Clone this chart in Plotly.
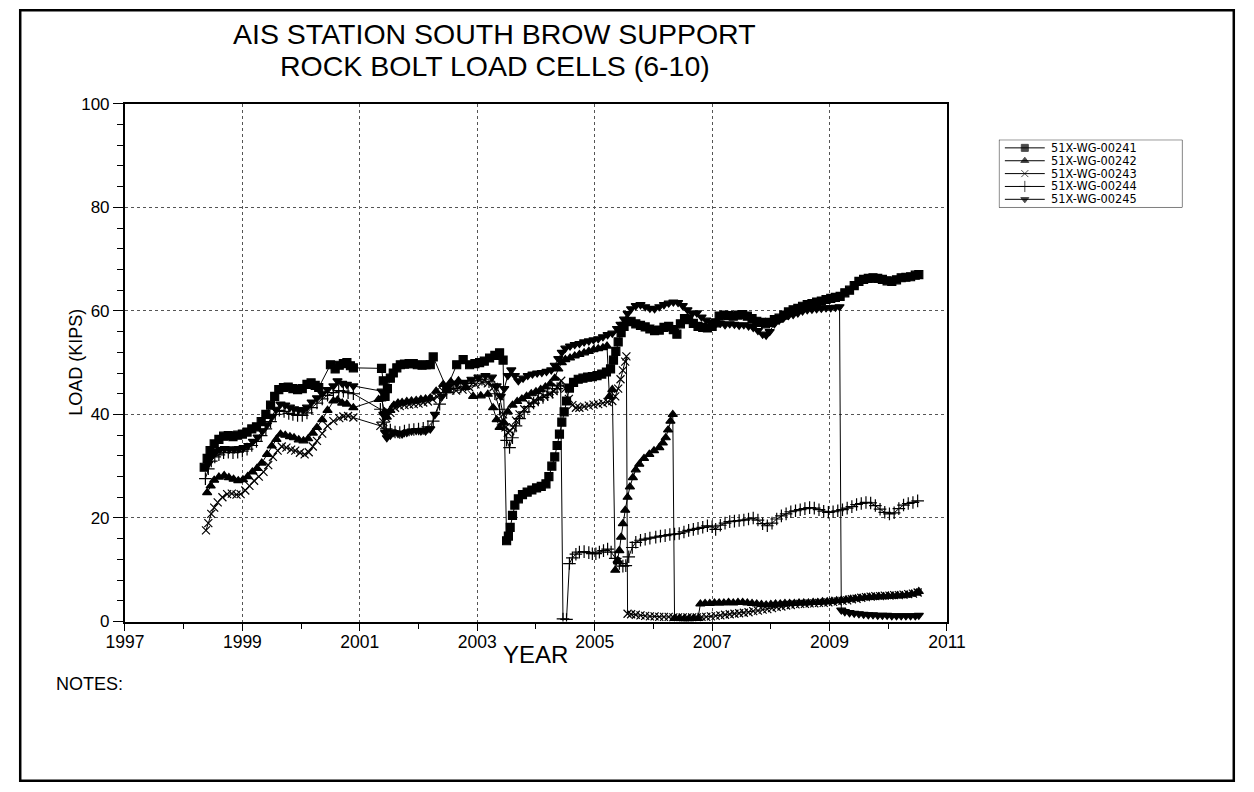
import plotly.graph_objects as go

# ---- load cell readings (decimal year, load in kips) ----
cell_241 = [
    (1998.35, 29.8), (1998.40, 31.5), (1998.45, 33.0), (1998.52, 34.3), (1998.60, 35.2),
    (1998.68, 35.8), (1998.76, 35.9), (1998.84, 35.7), (1998.92, 36.0), (1999.00, 36.2),
    (1999.08, 36.6), (1999.16, 37.2), (1999.24, 37.6), (1999.32, 38.6), (1999.40, 40.0),
    (1999.48, 41.8), (1999.55, 43.5), (1999.62, 44.8), (1999.70, 45.2), (1999.78, 45.3),
    (1999.86, 45.0), (1999.94, 44.8), (2000.02, 45.0), (2000.10, 45.8), (2000.17, 46.1),
    (2000.24, 45.6), (2000.30, 45.2), (2000.50, 49.6), (2000.58, 48.8), (2000.65, 49.5),
    (2000.72, 49.8), (2000.78, 50.0), (2000.84, 49.4), (2000.89, 49.0), (2001.37, 48.9),
    (2001.40, 46.5), (2001.43, 43.5), (2001.47, 45.0), (2001.52, 47.0), (2001.57, 48.0),
    (2001.63, 49.0), (2001.69, 49.6), (2001.76, 49.7), (2001.84, 49.8), (2001.91, 49.8),
    (2001.98, 49.6), (2002.06, 49.5), (2002.13, 49.6), (2002.20, 49.6), (2002.25, 51.1),
    (2002.48, 45.0), (2002.65, 49.6), (2002.76, 50.6), (2002.87, 49.6), (2002.96, 49.8),
    (2003.04, 50.0), (2003.12, 50.3), (2003.21, 50.9), (2003.30, 51.4), (2003.38, 51.9),
    (2003.44, 50.5), (2003.50, 15.6), (2003.53, 16.5), (2003.56, 18.2), (2003.60, 20.5),
    (2003.64, 22.5), (2003.70, 23.7), (2003.77, 24.5), (2003.85, 25.0), (2003.93, 25.4),
    (2004.01, 25.8), (2004.09, 26.1), (2004.17, 26.6), (2004.22, 28.0), (2004.27, 30.0),
    (2004.32, 31.8), (2004.36, 34.0), (2004.40, 36.2), (2004.44, 38.5), (2004.48, 40.5),
    (2004.52, 42.6), (2004.57, 45.1), (2004.64, 46.2), (2004.72, 46.8), (2004.80, 47.0),
    (2004.88, 47.2), (2004.96, 47.3), (2005.04, 47.5), (2005.12, 47.8), (2005.20, 48.2),
    (2005.27, 48.8), (2005.32, 50.5), (2005.36, 52.2), (2005.40, 54.0), (2005.45, 55.8),
    (2005.50, 57.0), (2005.55, 57.9), (2005.62, 58.0), (2005.70, 57.5), (2005.78, 57.2),
    (2005.86, 56.9), (2005.94, 56.5), (2006.02, 56.2), (2006.10, 56.3), (2006.18, 56.8),
    (2006.26, 57.0), (2006.34, 56.4), (2006.40, 55.5), (2006.46, 57.5), (2006.53, 58.5),
    (2006.60, 58.3), (2006.68, 57.6), (2006.76, 57.0), (2006.84, 56.8), (2006.92, 56.7),
    (2007.00, 57.0), (2007.06, 57.7), (2007.12, 59.0), (2007.20, 59.2), (2007.28, 59.1),
    (2007.36, 59.0), (2007.44, 59.2), (2007.52, 59.3), (2007.60, 59.0), (2007.68, 58.5),
    (2007.76, 58.0), (2007.84, 57.8), (2007.91, 57.5), (2007.98, 57.8), (2008.06, 58.3),
    (2008.14, 58.6), (2008.22, 59.2), (2008.30, 59.8), (2008.38, 60.2), (2008.46, 60.5),
    (2008.54, 60.9), (2008.62, 61.2), (2008.70, 61.4), (2008.78, 61.7), (2008.86, 61.9),
    (2008.94, 62.2), (2009.02, 62.4), (2009.10, 62.6), (2009.18, 62.8), (2009.26, 63.5),
    (2009.34, 64.0), (2009.42, 64.9), (2009.50, 65.7), (2009.58, 66.1), (2009.66, 66.3),
    (2009.74, 66.4), (2009.82, 66.3), (2009.90, 66.1), (2009.98, 65.8), (2010.06, 65.7),
    (2010.14, 66.0), (2010.22, 66.4), (2010.30, 66.5), (2010.38, 66.6), (2010.46, 66.9),
    (2010.52, 67.0),
]

cell_242 = [
    (1998.40, 24.9), (1998.46, 26.2), (1998.52, 27.3), (1998.60, 27.9), (1998.69, 28.2),
    (1998.77, 27.8), (1998.85, 27.5), (1998.93, 27.2), (1999.01, 27.4), (1999.09, 28.0),
    (1999.17, 28.9), (1999.25, 29.6), (1999.33, 30.6), (1999.42, 32.3), (1999.50, 33.9),
    (1999.58, 35.2), (1999.65, 36.2), (1999.73, 36.0), (1999.81, 35.7), (1999.88, 35.5),
    (1999.96, 35.1), (2000.04, 34.9), (2000.12, 35.3), (2000.20, 36.4), (2000.27, 37.5),
    (2000.36, 39.0), (2000.45, 40.8), (2000.55, 42.6), (2000.62, 42.8), (2000.70, 42.2),
    (2000.78, 42.0), (2000.89, 41.3), (2001.32, 42.9), (2001.37, 43.0), (2001.42, 40.5),
    (2001.46, 39.5), (2001.52, 40.8), (2001.58, 41.8), (2001.65, 42.2), (2001.72, 42.3),
    (2001.80, 42.5), (2001.88, 42.6), (2001.96, 42.7), (2002.04, 42.9), (2002.12, 43.0),
    (2002.20, 43.2), (2002.30, 44.5), (2002.42, 45.8), (2002.55, 46.3), (2002.68, 46.5),
    (2002.80, 45.2), (2002.93, 43.5), (2003.06, 43.6), (2003.18, 43.9), (2003.27, 41.3),
    (2003.33, 39.0), (2003.38, 37.5), (2003.45, 38.5), (2003.52, 40.5), (2003.60, 41.8),
    (2003.68, 42.5), (2003.76, 43.0), (2003.84, 43.5), (2003.92, 44.0), (2004.00, 44.4),
    (2004.08, 44.8), (2004.16, 45.3), (2004.24, 45.9), (2004.32, 47.0), (2004.38, 48.8),
    (2004.44, 50.0), (2004.50, 50.6), (2004.58, 50.9), (2004.66, 51.3), (2004.74, 51.6),
    (2004.82, 51.9), (2004.90, 52.2), (2004.98, 52.5), (2005.06, 52.7), (2005.14, 52.9),
    (2005.21, 53.2), (2005.25, 43.5), (2005.30, 44.8), (2005.35, 9.9), (2005.39, 11.8),
    (2005.42, 13.7), (2005.45, 16.3), (2005.48, 18.9), (2005.52, 21.5), (2005.56, 24.0),
    (2005.60, 26.0), (2005.65, 27.8), (2005.70, 29.3), (2005.76, 30.4), (2005.84, 31.5),
    (2005.93, 32.3), (2006.01, 33.0), (2006.10, 33.6), (2006.16, 34.5), (2006.21, 35.5),
    (2006.25, 37.0), (2006.29, 38.7), (2006.33, 40.0), (2006.36, 0.6), (2006.44, 0.6),
    (2006.52, 0.5), (2006.60, 0.5), (2006.68, 0.6), (2006.76, 0.6), (2006.80, 3.4),
    (2006.88, 3.5), (2006.96, 3.5), (2007.04, 3.6), (2007.12, 3.6), (2007.20, 3.6),
    (2007.28, 3.7), (2007.36, 3.6), (2007.44, 3.7), (2007.52, 3.7), (2007.60, 3.6),
    (2007.68, 3.5), (2007.76, 3.4), (2007.84, 3.3), (2007.92, 3.2), (2008.00, 3.3),
    (2008.08, 3.4), (2008.16, 3.4), (2008.24, 3.5), (2008.32, 3.5), (2008.40, 3.5),
    (2008.48, 3.6), (2008.56, 3.6), (2008.64, 3.6), (2008.72, 3.7), (2008.80, 3.7),
    (2008.88, 3.8), (2008.96, 3.8), (2009.04, 3.9), (2009.12, 4.0), (2009.20, 4.1),
    (2009.28, 4.2), (2009.36, 4.3), (2009.44, 4.4), (2009.52, 4.5), (2009.60, 4.6),
    (2009.68, 4.7), (2009.76, 4.7), (2009.84, 4.8), (2009.92, 4.8), (2010.00, 4.9),
    (2010.08, 4.9), (2010.16, 5.0), (2010.24, 5.0), (2010.32, 5.1), (2010.40, 5.3),
    (2010.48, 5.5), (2010.52, 5.8),
]

cell_243 = [
    (1998.38, 17.6), (1998.42, 19.0), (1998.47, 20.8), (1998.52, 22.0), (1998.58, 23.0),
    (1998.66, 24.0), (1998.74, 24.6), (1998.82, 24.7), (1998.90, 24.5), (1998.97, 24.6),
    (1999.05, 25.3), (1999.12, 26.2), (1999.20, 27.2), (1999.28, 28.0), (1999.36, 28.9),
    (1999.44, 30.2), (1999.52, 31.8), (1999.60, 33.0), (1999.67, 33.8), (1999.75, 33.6),
    (1999.83, 33.2), (1999.90, 33.0), (1999.98, 32.6), (2000.06, 32.3), (2000.13, 32.7),
    (2000.20, 33.8), (2000.27, 34.9), (2000.36, 36.3), (2000.45, 37.8), (2000.55, 38.7),
    (2000.65, 39.3), (2000.72, 39.6), (2000.80, 39.7), (2000.89, 39.4), (2001.35, 37.8),
    (2001.40, 38.5), (2001.45, 39.3), (2001.52, 40.3), (2001.60, 41.3), (2001.68, 41.6),
    (2001.76, 41.8), (2001.84, 41.9), (2001.92, 42.0), (2002.00, 42.1), (2002.08, 42.3),
    (2002.16, 42.5), (2002.24, 42.9), (2002.32, 43.4), (2002.42, 44.5), (2002.52, 45.0),
    (2002.64, 44.6), (2002.75, 44.8), (2002.86, 45.3), (2002.97, 45.8), (2003.08, 46.2),
    (2003.18, 46.0), (2003.28, 45.3), (2003.38, 43.5), (2003.44, 40.0), (2003.48, 37.5),
    (2003.52, 36.5), (2003.56, 36.8), (2003.61, 37.5), (2003.66, 38.8), (2003.72, 40.0),
    (2003.80, 41.0), (2003.89, 42.0), (2003.97, 42.6), (2004.06, 43.2), (2004.14, 43.5),
    (2004.23, 43.9), (2004.30, 44.5), (2004.36, 45.3), (2004.43, 46.5), (2004.50, 45.0),
    (2004.56, 43.0), (2004.62, 41.8), (2004.68, 41.3), (2004.74, 41.3), (2004.82, 41.5),
    (2004.90, 41.7), (2004.98, 41.9), (2005.06, 42.0), (2005.14, 42.2), (2005.22, 42.4),
    (2005.30, 42.6), (2005.35, 43.5), (2005.40, 45.0), (2005.44, 46.8), (2005.48, 48.5),
    (2005.52, 50.2), (2005.54, 51.2), (2005.56, 1.5), (2005.62, 1.4), (2005.70, 1.3),
    (2005.78, 1.2), (2005.86, 1.1), (2005.94, 1.0), (2006.02, 1.0), (2006.10, 0.9),
    (2006.18, 0.9), (2006.26, 0.9), (2006.34, 0.8), (2006.42, 0.8), (2006.50, 0.8),
    (2006.58, 0.8), (2006.66, 0.8), (2006.74, 0.8), (2006.82, 0.9), (2006.90, 0.9),
    (2006.98, 1.0), (2007.06, 1.1), (2007.14, 1.2), (2007.22, 1.3), (2007.30, 1.4),
    (2007.38, 1.5), (2007.46, 1.6), (2007.54, 1.7), (2007.62, 1.8), (2007.70, 2.0),
    (2007.78, 2.1), (2007.86, 2.3), (2007.94, 2.4), (2008.02, 2.6), (2008.10, 2.8),
    (2008.18, 2.9), (2008.26, 3.1), (2008.34, 3.2), (2008.42, 3.3), (2008.50, 3.4),
    (2008.58, 3.4), (2008.66, 3.5), (2008.74, 3.5), (2008.82, 3.6), (2008.90, 3.6),
    (2008.98, 3.7), (2009.06, 3.8), (2009.14, 3.9), (2009.22, 4.0), (2009.30, 4.1),
    (2009.38, 4.3), (2009.46, 4.4), (2009.54, 4.6), (2009.62, 4.7), (2009.70, 4.8),
    (2009.78, 4.9), (2009.86, 4.9), (2009.94, 5.0), (2010.02, 5.0), (2010.10, 5.1),
    (2010.18, 5.1), (2010.26, 5.2), (2010.34, 5.3), (2010.42, 5.4), (2010.50, 5.6),
]

cell_244 = [
    (1998.37, 27.6), (1998.42, 29.5), (1998.47, 31.0), (1998.53, 31.8), (1998.60, 32.2),
    (1998.68, 32.6), (1998.76, 32.7), (1998.84, 32.6), (1998.92, 32.7), (1999.00, 32.9),
    (1999.08, 33.3), (1999.16, 34.0), (1999.24, 34.8), (1999.32, 35.9), (1999.40, 37.2),
    (1999.48, 38.6), (1999.56, 40.0), (1999.63, 40.8), (1999.71, 40.6), (1999.79, 40.2),
    (1999.86, 40.0), (1999.94, 39.8), (2000.02, 39.8), (2000.10, 40.3), (2000.18, 41.3),
    (2000.27, 42.2), (2000.36, 43.0), (2000.45, 43.7), (2000.55, 44.2), (2000.64, 44.6),
    (2000.72, 44.5), (2000.80, 44.2), (2000.89, 44.0), (2001.35, 41.0), (2001.40, 38.5),
    (2001.45, 37.2), (2001.52, 37.0), (2001.60, 36.6), (2001.68, 36.5), (2001.76, 36.8),
    (2001.84, 37.0), (2001.92, 37.1), (2002.00, 37.2), (2002.08, 37.3), (2002.16, 37.6),
    (2002.25, 38.7), (2002.36, 42.0), (2002.48, 44.2), (2002.60, 45.0), (2002.72, 45.3),
    (2002.84, 46.0), (2002.96, 46.5), (2003.08, 46.8), (2003.20, 46.3), (2003.30, 44.0),
    (2003.38, 41.0), (2003.44, 38.0), (2003.50, 35.0), (2003.55, 33.6), (2003.60, 35.5),
    (2003.66, 37.8), (2003.72, 39.2), (2003.80, 40.5), (2003.88, 41.5), (2003.96, 42.2),
    (2004.04, 42.8), (2004.12, 43.3), (2004.20, 43.8), (2004.28, 44.3), (2004.36, 45.0),
    (2004.42, 45.5), (2004.46, 0.5), (2004.52, 0.4), (2004.57, 11.2), (2004.62, 12.3),
    (2004.68, 13.0), (2004.74, 13.4), (2004.82, 13.5), (2004.90, 13.3), (2004.96, 13.1),
    (2005.02, 13.1), (2005.08, 13.4), (2005.15, 13.7), (2005.22, 14.0), (2005.28, 13.4),
    (2005.35, 12.2), (2005.42, 11.2), (2005.48, 10.7), (2005.53, 10.8), (2005.58, 12.5),
    (2005.64, 14.3), (2005.70, 15.3), (2005.78, 15.7), (2005.86, 15.9), (2005.94, 16.1),
    (2006.04, 16.3), (2006.12, 16.5), (2006.20, 16.6), (2006.28, 16.8), (2006.36, 16.9),
    (2006.44, 17.0), (2006.52, 17.3), (2006.60, 17.6), (2006.68, 17.8), (2006.76, 18.0),
    (2006.84, 18.2), (2006.92, 18.5), (2007.00, 18.3), (2007.06, 17.8), (2007.14, 18.6),
    (2007.22, 19.0), (2007.30, 19.3), (2007.38, 19.4), (2007.46, 19.5), (2007.54, 19.6),
    (2007.62, 19.8), (2007.70, 20.0), (2007.78, 19.6), (2007.86, 18.9), (2007.94, 18.5),
    (2008.02, 19.0), (2008.10, 19.8), (2008.18, 20.4), (2008.26, 20.8), (2008.34, 21.2),
    (2008.42, 21.4), (2008.50, 21.6), (2008.58, 21.8), (2008.66, 22.0), (2008.74, 21.9),
    (2008.82, 21.6), (2008.90, 21.3), (2008.98, 21.1), (2009.06, 21.2), (2009.14, 21.4),
    (2009.22, 21.6), (2009.30, 21.9), (2009.38, 22.2), (2009.46, 22.6), (2009.54, 22.8),
    (2009.62, 23.0), (2009.70, 22.9), (2009.78, 22.4), (2009.86, 21.7), (2009.94, 21.1),
    (2010.02, 20.8), (2010.10, 21.0), (2010.18, 21.8), (2010.26, 22.5), (2010.34, 22.8),
    (2010.42, 23.0), (2010.50, 23.3),
]

cell_245 = [
    (1998.42, 30.5), (1998.48, 32.0), (1998.55, 32.8), (1998.62, 33.2), (1998.70, 33.4),
    (1998.78, 33.3), (1998.86, 33.3), (1998.94, 33.4), (1999.02, 33.6), (1999.10, 34.0),
    (1999.18, 34.8), (1999.26, 35.6), (1999.34, 36.8), (1999.42, 38.0), (1999.50, 39.5),
    (1999.57, 41.0), (1999.65, 42.0), (1999.73, 41.8), (1999.81, 41.4), (1999.88, 41.1),
    (1999.96, 40.9), (2000.04, 40.9), (2000.10, 41.4), (2000.18, 42.4), (2000.27, 43.2),
    (2000.36, 44.0), (2000.45, 44.8), (2000.55, 45.5), (2000.62, 46.5), (2000.70, 46.0),
    (2000.78, 45.8), (2000.89, 45.5), (2001.37, 44.5), (2001.40, 40.0), (2001.43, 36.5),
    (2001.46, 35.5), (2001.52, 36.0), (2001.58, 36.5), (2001.65, 36.3), (2001.72, 36.2),
    (2001.80, 36.5), (2001.88, 36.8), (2001.96, 36.9), (2002.04, 36.8), (2002.12, 36.8),
    (2002.20, 37.2), (2002.28, 40.0), (2002.40, 43.5), (2002.52, 45.5), (2002.65, 46.0),
    (2002.78, 46.2), (2002.90, 46.8), (2003.02, 47.2), (2003.14, 47.5), (2003.25, 47.2),
    (2003.33, 45.5), (2003.40, 43.5), (2003.46, 45.0), (2003.52, 47.5), (2003.58, 48.6),
    (2003.64, 47.5), (2003.70, 46.5), (2003.78, 47.0), (2003.86, 47.5), (2003.94, 47.8),
    (2004.02, 48.0), (2004.10, 48.1), (2004.18, 48.3), (2004.26, 48.6), (2004.32, 49.5),
    (2004.38, 50.8), (2004.44, 52.0), (2004.50, 52.8), (2004.58, 53.2), (2004.66, 53.5),
    (2004.74, 53.7), (2004.82, 54.0), (2004.90, 54.2), (2004.98, 54.4), (2005.06, 54.6),
    (2005.14, 55.0), (2005.22, 55.4), (2005.30, 55.7), (2005.38, 56.6), (2005.44, 57.4),
    (2005.50, 58.4), (2005.56, 59.5), (2005.62, 60.4), (2005.70, 61.0), (2005.78, 61.2),
    (2005.86, 60.8), (2005.94, 60.5), (2006.02, 60.4), (2006.10, 60.8), (2006.18, 61.2),
    (2006.26, 61.5), (2006.34, 61.7), (2006.42, 61.6), (2006.50, 61.0), (2006.58, 60.2),
    (2006.66, 59.5), (2006.74, 59.6), (2006.82, 58.8), (2006.90, 58.2), (2006.98, 57.8),
    (2007.06, 57.5), (2007.14, 57.6), (2007.22, 57.3), (2007.30, 57.5), (2007.38, 57.4),
    (2007.46, 57.2), (2007.54, 57.3), (2007.62, 57.1), (2007.70, 56.8), (2007.78, 56.2),
    (2007.86, 55.5), (2007.92, 55.3), (2007.98, 56.0), (2008.06, 57.5), (2008.14, 58.2),
    (2008.22, 58.7), (2008.30, 59.1), (2008.38, 59.3), (2008.46, 59.6), (2008.54, 60.0),
    (2008.62, 60.2), (2008.70, 60.3), (2008.78, 60.4), (2008.86, 60.5), (2008.94, 60.6),
    (2009.02, 60.6), (2009.10, 60.7), (2009.17, 60.8), (2009.20, 2.2), (2009.26, 1.9),
    (2009.34, 1.7), (2009.42, 1.6), (2009.50, 1.5), (2009.58, 1.4), (2009.66, 1.3),
    (2009.74, 1.3), (2009.82, 1.2), (2009.90, 1.2), (2009.98, 1.2), (2010.06, 1.1),
    (2010.14, 1.1), (2010.22, 1.1), (2010.30, 1.1), (2010.38, 1.1), (2010.46, 1.1),
    (2010.52, 1.2),
]

series_names = ["51X-WG-00241", "51X-WG-00242", "51X-WG-00243", "51X-WG-00244", "51X-WG-00245"]
series_data = [cell_241, cell_242, cell_243, cell_244, cell_245]
series_symbols = ["square", "triangle-up", "x-thin", "cross-thin", "triangle-down"]
series_sizes = [8, 8, 8, 9, 8]

year_ticks = [1997, 1999, 2001, 2003, 2005, 2007, 2009, 2011]
load_ticks = [0, 20, 40, 60, 80, 100]

FONT = "Liberation Sans, Arial, sans-serif"
W, H = 1254, 792

# Layout positions are written in sheet units; these convert them to figure pixels.
SHEET_X0, SHEET_SX = 17.8, 0.972
SHEET_Y0, SHEET_SY = 6.9, 0.979


def fx(sx):
    return (sx - SHEET_X0) / SHEET_SX / W


def fy(sy):
    return 1 - (sy - SHEET_Y0) / SHEET_SY / H


# plot box (sheet units)
PX0, PX1, PY0, PY1 = 124, 948, 102, 621.3

fig = go.Figure()

for name, data, sym, size in zip(series_names, series_data, series_symbols, series_sizes):
    xs = [p[0] for p in data]
    ys = [p[1] for p in data]
    fig.add_trace(go.Scatter(
        x=xs, y=ys, mode="lines+markers", name=name, showlegend=False,
        line=dict(color="black", width=1),
        marker=dict(symbol=sym, size=size, color="black",
                    line=dict(color="black", width=1.2)),
        xaxis="x", yaxis="y",
    ))

# legend key drawn on its own small hidden axes (sheet units)
LX0, LX1, LY0, LY1 = 1000, 1184, 138, 206
row_step = 12.9
for i, (name, sym, size) in enumerate(zip(series_names, series_symbols, series_sizes)):
    ry = LY0 + 8.2 + i * row_step
    fig.add_trace(go.Scatter(
        x=[1006, 1026, 1046], y=[ry, ry, ry], mode="lines+markers", showlegend=False,
        line=dict(color="black", width=1),
        marker=dict(symbol=sym, size=[0, size - 1, 0], color="black",
                    line=dict(color="black", width=1)),
        xaxis="x2", yaxis="y2", hoverinfo="skip",
    ))
    fig.add_annotation(x=1050, y=ry, xref="x2", yref="y2", text=name, showarrow=False,
                       xanchor="left", yanchor="middle",
                       font=dict(family="DejaVu Sans, sans-serif", size=11.4, color="black"))

fig.add_shape(type="rect", xref="x2", yref="y2", x0=LX0, x1=LX1, y0=LY0, y1=LY1,
              line=dict(color="black", width=1))

axis_common = dict(
    showline=True, linecolor="black", linewidth=2, mirror=True,
    showgrid=True, gridcolor="#555555", griddash="dot", gridwidth=1,
    zeroline=False, ticks="outside", tickcolor="black", tickwidth=1,
)

fig.update_layout(
    width=W, height=H,
    margin=dict(l=0, r=0, t=0, b=0),
    paper_bgcolor="white", plot_bgcolor="white",
    xaxis=dict(
        domain=[fx(PX0), fx(PX1)], range=[1997, 2011], tickvals=year_ticks,
        ticklen=7, ticklabelstandoff=-4,
        tickfont=dict(family=FONT, size=17.5, color="black"),
        minor=dict(dtick=1, tick0=1997, ticklen=5, ticks="outside",
                   tickcolor="black", showgrid=False),
        anchor="y", **axis_common,
    ),
    yaxis=dict(
        domain=[fy(PY1), fy(PY0)], range=[0, 100], tickvals=load_ticks,
        ticklen=10, tickfont=dict(family=FONT, size=17, color="black"),
        minor=dict(dtick=4, tick0=0, ticklen=6, ticks="outside",
                   tickcolor="black", showgrid=False),
        anchor="x", **axis_common,
    ),
    xaxis2=dict(domain=[fx(LX0), fx(LX1)], range=[LX0, LX1], visible=False,
                anchor="y2", fixedrange=True),
    yaxis2=dict(domain=[fy(LY1), fy(LY0)], range=[LY1, LY0], visible=False,
                anchor="x2", fixedrange=True),
    showlegend=False,
)

# titles and notes (sheet units)
text_items = [
    ("AIS STATION SOUTH BROW SUPPORT", 494.5, 32, 28.5, "center"),
    ("ROCK BOLT LOAD CELLS (6-10)", 494.5, 64.5, 28.5, "center"),
    ("YEAR", 535.5, 654, 24, "center"),
    ("NOTES:", 53, 684, 18, "left"),
]
for txt, sx, sy, size, anchor in text_items:
    fig.add_annotation(x=fx(sx), y=fy(sy), xref="paper", yref="paper", text=txt,
                       showarrow=False, xanchor=anchor, yanchor="middle",
                       font=dict(family=FONT, size=size, color="black"))

fig.add_annotation(x=fx(75), y=fy((PY0 + PY1) / 2), xref="paper", yref="paper",
                   text="LOAD (KIPS)", textangle=-90, showarrow=False,
                   xanchor="center", yanchor="middle",
                   font=dict(family=FONT, size=18, color="black"))

# outer page frame along the figure edges
fig.add_shape(type="rect", xref="paper", yref="paper",
              x0=0.001, x1=0.999, y0=0.0015, y1=0.9985,
              line=dict(color="black", width=2.5))

fig.write_html("out.html")
